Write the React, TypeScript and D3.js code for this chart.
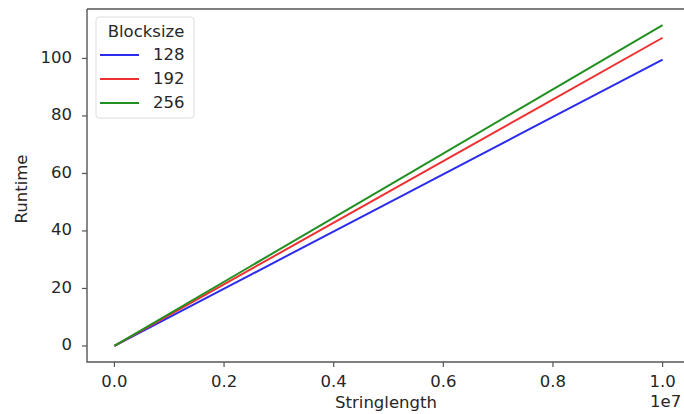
import * as d3 from "d3";

const stringLengths = [0, 2.5e6, 5e6, 7.5e6, 1e7];
const runtime128 = [0, 24.9, 49.8, 74.7, 99.6];
const runtime192 = [0, 26.8, 53.6, 80.4, 107.2];
const runtime256 = [0, 27.9, 55.8, 83.7, 111.6];
const blocksizes = ["128", "192", "256"];
const colors = ["#2b2bf0", "#f03030", "#219021"];
const xTicks = [0, 0.2e7, 0.4e7, 0.6e7, 0.8e7, 1e7];
const yTicks = [0, 20, 40, 60, 80, 100];

const series = [runtime128, runtime192, runtime256];

export default function App() {
  const width = 684;
  const height = 414;
  const left = 87;
  const top = 9;
  const right = 690;
  const bottom = 362;

  const x = d3.scaleLinear().domain([-0.05e7, 1.05e7]).range([left, right]);
  const y = d3.scaleLinear().domain([-5.58, 117.2]).range([bottom, top]);

  const line = d3
    .line<number>()
    .x((_, i) => x(stringLengths[i]))
    .y((d) => y(d));

  const font = "DejaVu Sans, sans-serif";
  const textColor = "#262626";
  const fs = 16.5;

  return (
    <svg
      width={width}
      height={height}
      style={{ position: "absolute", left: 0, top: 0, background: "#fff" }}
      fontFamily={font}
    >
      <rect x={0} y={0} width={width} height={height} fill="#fff" />
      {series.map((s, i) => (
        <path
          key={blocksizes[i]}
          d={line(s) ?? ""}
          fill="none"
          stroke={colors[i]}
          strokeWidth={2}
        />
      ))}
      {/* spines */}
      <path
        d={`M${left},${top}V${bottom}H${right}M${left},${top}H${right}`}
        fill="none"
        stroke="#555"
        strokeWidth={1.4}
      />
      {xTicks.map((t) => (
        <g key={t} transform={`translate(${x(t)},${bottom})`}>
          <line y2={5} stroke="#555" strokeWidth={1.2} />
          <text
            y={20}
            textAnchor="middle"
            dominantBaseline="middle"
            fontSize={fs}
            fill={textColor}
          >
            {(t / 1e7).toFixed(1)}
          </text>
        </g>
      ))}
      {yTicks.map((t) => (
        <g key={t} transform={`translate(${left},${y(t)})`}>
          <line x2={-5} stroke="#555" strokeWidth={1.2} />
          <text
            x={-15}
            textAnchor="end"
            dominantBaseline="middle"
            fontSize={fs}
            fill={textColor}
          >
            {t}
          </text>
        </g>
      ))}
      <text
        x={386}
        y={403}
        textAnchor="middle"
        dominantBaseline="middle"
        fontSize={fs}
        fill={textColor}
      >
        Stringlength
      </text>
      <text
        x={650}
        y={402}
        dominantBaseline="middle"
        fontSize={fs}
        fill={textColor}
      >
        1e7
      </text>
      <text
        transform={`translate(22,189) rotate(-90)`}
        textAnchor="middle"
        dominantBaseline="middle"
        fontSize={fs}
        fill={textColor}
      >
        Runtime
      </text>
      {/* legend */}
      <rect
        x={96}
        y={17}
        width={98}
        height={101}
        rx={3}
        fill="#fff"
        fillOpacity={0.8}
        stroke="#ddd"
      />
      <text
        x={146}
        y={32}
        textAnchor="middle"
        dominantBaseline="middle"
        fontSize={fs}
        fill={textColor}
      >
        Blocksize
      </text>
      {blocksizes.map((b, i) => (
        <g key={b} transform={`translate(100,${55 + i * 24})`}>
          <line x2={39} stroke={colors[i]} strokeWidth={2} />
          <text
            x={53}
            dominantBaseline="middle"
            fontSize={fs}
            fill={textColor}
          >
            {b}
          </text>
        </g>
      ))}
    </svg>
  );
}
